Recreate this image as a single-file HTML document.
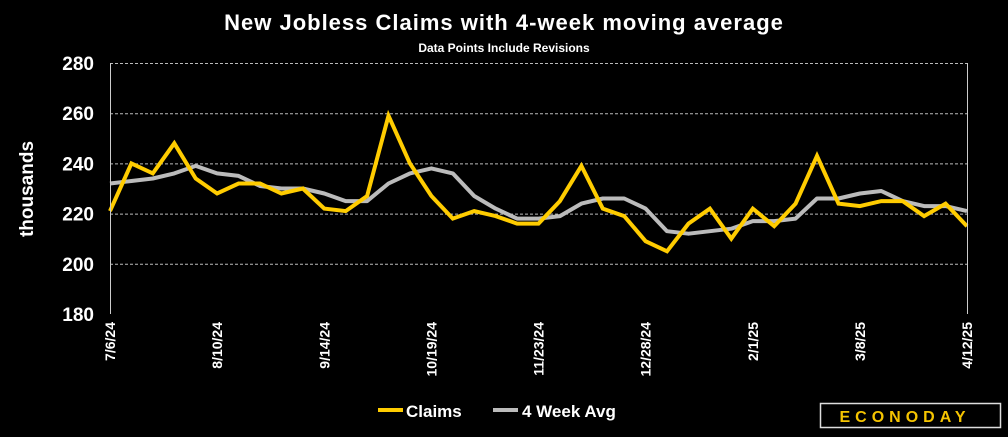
<!DOCTYPE html>
<html><head><meta charset="utf-8"><style>
body{margin:0;background:#000;width:1008px;height:432px;overflow:hidden;font-family:"Liberation Sans",sans-serif}
</style></head><body>
<svg width="1008" height="432" xmlns="http://www.w3.org/2000/svg">
<text x="504" y="30" fill="#fff" font-size="22" font-weight="bold" text-anchor="middle" letter-spacing="1">New Jobless Claims with 4-week moving average</text>
<text x="504" y="52" fill="#fff" font-size="12" font-weight="bold" text-anchor="middle">Data Points Include Revisions</text>
<text transform="translate(33,189) rotate(-90)" fill="#fff" font-size="19" font-weight="bold" text-anchor="middle">thousands</text>
<g id="grid"></g><g id="ylab"></g><g id="xlab"></g><g id="lines"></g>
<line x1="110.5" y1="63" x2="110.5" y2="314" stroke="#ccc"/>
<line x1="967.5" y1="63" x2="967.5" y2="314" stroke="#ccc"/>
<g>
<line x1="378" y1="410" x2="403" y2="410" stroke="#fc0" stroke-width="4"/>
<text x="406" y="417" fill="#fff" font-size="17" font-weight="bold">Claims</text>
<line x1="493" y1="410" x2="518" y2="410" stroke="#bbb" stroke-width="4"/>
<text x="522" y="417" fill="#fff" font-size="17" font-weight="bold">4 Week Avg</text>
</g>
<g>
<rect x="820.5" y="403.5" width="180" height="24" fill="#000" stroke="#ddd" stroke-width="1.5"/>
<text x="905" y="422" fill="#f5c400" font-size="16" font-weight="bold" letter-spacing="5" text-anchor="middle">ECONODAY</text>
</g>
</svg>
<script>
const claims=[221,240,236,248,234,228,232,232,228,230,222,221,227,259,240,227,218,221,219,216,216,225,239,222,219,209,205,216,222,210,222,215,224,243,224,223,225,225,219,224,215];
const avg=[232,233,234,236,239,236,235,231,230,230,228,225,225,232,236,238,236,227,222,218,218,219,224,226,226,222,213,212,213,214,217,217,218,226,226,228,229,225,223,223,221];
const yTicks=[180,200,220,240,260,280];
const xLabels=["7/6/24","8/10/24","9/14/24","10/19/24","11/23/24","12/28/24","2/1/25","3/8/25","4/12/25"];
const labelStep=5;
const NS="http://www.w3.org/2000/svg";
const x=i=>110+i*(967-110)/(claims.length-1);
const y=v=>314-(v-180)*251/100;
function mk(t,a,p){const e=document.createElementNS(NS,t);for(const k in a)e.setAttribute(k,a[k]);document.getElementById(p).appendChild(e);return e;}
yTicks.forEach(v=>{
 if(v>180){const l=mk('line',{x1:110,x2:967,y1:y(v)+0.5,y2:y(v)+0.5,stroke:'#bbb','stroke-dasharray':'3,2'},'grid');
 
 }
 const t=mk('text',{x:94,y:y(v)+7,fill:'#fff','font-size':19,'font-weight':'bold','text-anchor':'end'},'ylab');t.textContent=v;
 
 
});
xLabels.forEach((s,k)=>{const xi=x(k*labelStep);
 const t=mk('text',{transform:`translate(${xi+5},322) rotate(-90)`,fill:'#fff','font-size':14,'font-weight':'bold','text-anchor':'end'},'xlab');t.textContent=s;
 
 
});
function path(d){return d.map((v,i)=>(i?'L':'M')+x(i).toFixed(1)+','+y(v).toFixed(1)).join('');}
const a=mk('path',{d:path(avg),fill:'none',stroke:'#bbb','stroke-width':4,'stroke-linejoin':'round'},'lines');


const c=mk('path',{d:path(claims),fill:'none',stroke:'#fc0','stroke-width':4,'stroke-linejoin':'miter'},'lines');


</script>
</body></html>
